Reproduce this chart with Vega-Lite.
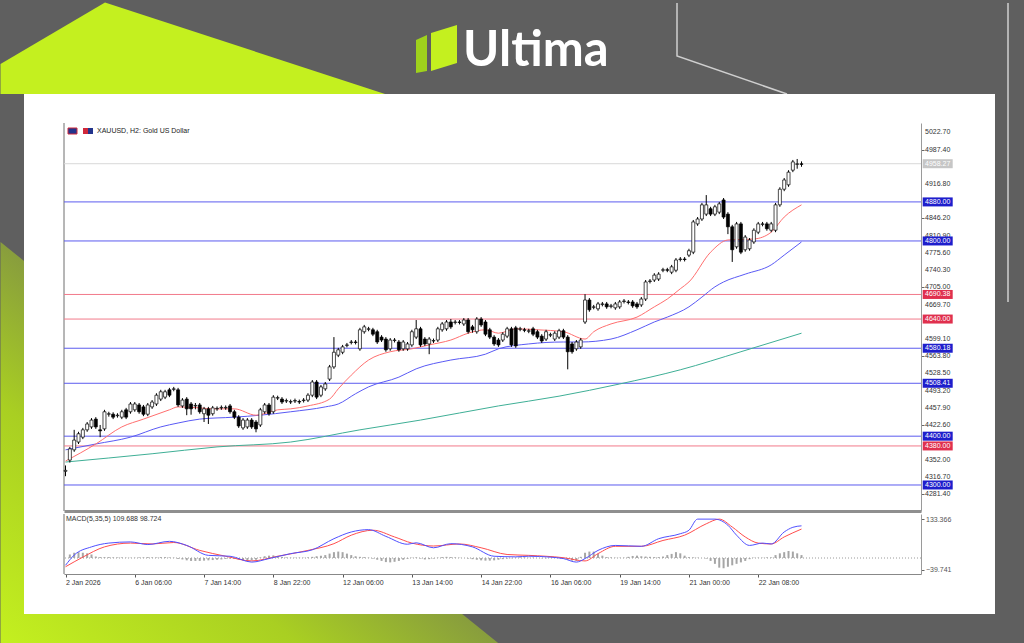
{
"$schema": "https://vega.github.io/schema/vega-lite/v6.json",
"background": "#5f5f5f",
"padding": 0,
"autosize": {"type": "pad"},
"bounds": "flush",
"spacing": 3,
"config": {"view": {"stroke": null}, "font": "Liberation Sans", "axis": {"labelFont": "Liberation Sans", "grid": false, "labelOverlap": false, "labelBound": false}, "text": {"font": "Liberation Sans"}, "scale": {"continuousPadding": 0}},
"datasets": {
"candles": [
{"i":0,"o":4328,"h":4340,"l":4318,"c":4330,"hist":0},
{"i":1,"o":4351,"h":4378,"l":4346,"c":4374,"hist":12},
{"i":2,"o":4372,"h":4413,"l":4368,"c":4392,"hist":18},
{"i":3,"o":4388,"h":4409,"l":4384,"c":4405,"hist":20},
{"i":4,"o":4398,"h":4417,"l":4394,"c":4413,"hist":18},
{"i":5,"o":4413,"h":4429,"l":4409,"c":4425,"hist":16},
{"i":6,"o":4419,"h":4437,"l":4415,"c":4433,"hist":12},
{"i":7,"o":4435,"h":4439,"l":4415,"c":4419,"hist":5},
{"i":8,"o":4413,"h":4423,"l":4398,"c":4411,"hist":3},
{"i":9,"o":4415,"h":4454,"l":4411,"c":4450,"hist":3},
{"i":10,"o":4445,"h":4450,"l":4440,"c":4446,"hist":3},
{"i":11,"o":4445,"h":4449,"l":4435,"c":4439,"hist":2},
{"i":12,"o":4442,"h":4447,"l":4438,"c":4443,"hist":2},
{"i":13,"o":4439,"h":4454,"l":4435,"c":4450,"hist":2},
{"i":14,"o":4454,"h":4458,"l":4435,"c":4439,"hist":1},
{"i":15,"o":4450,"h":4470,"l":4446,"c":4466,"hist":1},
{"i":16,"o":4454,"h":4470,"l":4450,"c":4466,"hist":1},
{"i":17,"o":4464,"h":4468,"l":4446,"c":4450,"hist":2},
{"i":18,"o":4460,"h":4464,"l":4441,"c":4445,"hist":2},
{"i":19,"o":4445,"h":4468,"l":4441,"c":4464,"hist":3},
{"i":20,"o":4460,"h":4474,"l":4456,"c":4470,"hist":2},
{"i":21,"o":4466,"h":4488,"l":4462,"c":4484,"hist":2},
{"i":22,"o":4476,"h":4495,"l":4472,"c":4491,"hist":3},
{"i":23,"o":4480,"h":4495,"l":4476,"c":4491,"hist":3},
{"i":24,"o":4495,"h":4499,"l":4480,"c":4484,"hist":2},
{"i":25,"o":4496,"h":4501,"l":4492,"c":4497,"hist":1},
{"i":26,"o":4495,"h":4499,"l":4460,"c":4464,"hist":-3},
{"i":27,"o":4462,"h":4478,"l":4458,"c":4474,"hist":-5},
{"i":28,"o":4476,"h":4480,"l":4443,"c":4456,"hist":-8},
{"i":29,"o":4466,"h":4470,"l":4444,"c":4456,"hist":-10},
{"i":30,"o":4462,"h":4468,"l":4455,"c":4463,"hist":-10},
{"i":31,"o":4464,"h":4468,"l":4446,"c":4450,"hist":-10},
{"i":32,"o":4446,"h":4460,"l":4429,"c":4456,"hist":-9},
{"i":33,"o":4456,"h":4460,"l":4425,"c":4443,"hist":-8},
{"i":34,"o":4446,"h":4462,"l":4442,"c":4458,"hist":-7},
{"i":35,"o":4456,"h":4461,"l":4452,"c":4457,"hist":-6},
{"i":36,"o":4458,"h":4463,"l":4454,"c":4459,"hist":-5},
{"i":37,"o":4458,"h":4463,"l":4454,"c":4459,"hist":-3},
{"i":38,"o":4462,"h":4466,"l":4446,"c":4450,"hist":-2},
{"i":39,"o":4450,"h":4454,"l":4435,"c":4439,"hist":-3},
{"i":40,"o":4439,"h":4443,"l":4417,"c":4421,"hist":-6},
{"i":41,"o":4417,"h":4437,"l":4413,"c":4433,"hist":-8},
{"i":42,"o":4419,"h":4437,"l":4415,"c":4433,"hist":-9},
{"i":43,"o":4433,"h":4437,"l":4415,"c":4419,"hist":-8},
{"i":44,"o":4429,"h":4433,"l":4408,"c":4415,"hist":-6},
{"i":45,"o":4423,"h":4458,"l":4419,"c":4454,"hist":2},
{"i":46,"o":4450,"h":4468,"l":4446,"c":4464,"hist":6},
{"i":47,"o":4464,"h":4468,"l":4442,"c":4446,"hist":8},
{"i":48,"o":4450,"h":4484,"l":4446,"c":4480,"hist":9},
{"i":49,"o":4478,"h":4483,"l":4474,"c":4479,"hist":7},
{"i":50,"o":4476,"h":4480,"l":4466,"c":4470,"hist":4},
{"i":51,"o":4472,"h":4477,"l":4468,"c":4473,"hist":2},
{"i":52,"o":4470,"h":4475,"l":4466,"c":4471,"hist":1},
{"i":53,"o":4472,"h":4477,"l":4468,"c":4473,"hist":1},
{"i":54,"o":4471,"h":4475,"l":4466,"c":4470,"hist":1},
{"i":55,"o":4473,"h":4478,"l":4469,"c":4474,"hist":1},
{"i":56,"o":4474,"h":4488,"l":4470,"c":4484,"hist":2},
{"i":57,"o":4484,"h":4515,"l":4480,"c":4511,"hist":4},
{"i":58,"o":4511,"h":4515,"l":4476,"c":4480,"hist":6},
{"i":59,"o":4484,"h":4505,"l":4480,"c":4501,"hist":8},
{"i":60,"o":4497,"h":4511,"l":4493,"c":4507,"hist":10},
{"i":61,"o":4517,"h":4546,"l":4513,"c":4542,"hist":15},
{"i":62,"o":4542,"h":4603,"l":4538,"c":4572,"hist":20},
{"i":63,"o":4566,"h":4581,"l":4562,"c":4577,"hist":22},
{"i":64,"o":4572,"h":4587,"l":4568,"c":4583,"hist":20},
{"i":65,"o":4586,"h":4591,"l":4582,"c":4587,"hist":15},
{"i":66,"o":4592,"h":4597,"l":4588,"c":4593,"hist":10},
{"i":67,"o":4593,"h":4597,"l":4588,"c":4592,"hist":6},
{"i":68,"o":4579,"h":4622,"l":4575,"c":4618,"hist":4},
{"i":69,"o":4614,"h":4628,"l":4610,"c":4624,"hist":3},
{"i":70,"o":4619,"h":4624,"l":4615,"c":4620,"hist":1},
{"i":71,"o":4618,"h":4622,"l":4605,"c":4609,"hist":-2},
{"i":72,"o":4614,"h":4618,"l":4589,"c":4593,"hist":-6},
{"i":73,"o":4603,"h":4607,"l":4593,"c":4597,"hist":-10},
{"i":74,"o":4599,"h":4603,"l":4573,"c":4577,"hist":-14},
{"i":75,"o":4579,"h":4601,"l":4575,"c":4597,"hist":-15},
{"i":76,"o":4596,"h":4601,"l":4592,"c":4597,"hist":-13},
{"i":77,"o":4593,"h":4597,"l":4573,"c":4577,"hist":-10},
{"i":78,"o":4579,"h":4597,"l":4575,"c":4593,"hist":-6},
{"i":79,"o":4579,"h":4593,"l":4575,"c":4589,"hist":-3},
{"i":80,"o":4587,"h":4618,"l":4583,"c":4614,"hist":1},
{"i":81,"o":4603,"h":4638,"l":4599,"c":4620,"hist":2},
{"i":82,"o":4620,"h":4624,"l":4583,"c":4587,"hist":-2},
{"i":83,"o":4599,"h":4603,"l":4585,"c":4589,"hist":-5},
{"i":84,"o":4589,"h":4603,"l":4568,"c":4599,"hist":-4},
{"i":85,"o":4595,"h":4600,"l":4591,"c":4596,"hist":-2},
{"i":86,"o":4597,"h":4624,"l":4593,"c":4620,"hist":1},
{"i":87,"o":4618,"h":4634,"l":4614,"c":4630,"hist":3},
{"i":88,"o":4620,"h":4638,"l":4616,"c":4634,"hist":4},
{"i":89,"o":4634,"h":4640,"l":4620,"c":4624,"hist":3},
{"i":90,"o":4633,"h":4638,"l":4629,"c":4634,"hist":2},
{"i":91,"o":4634,"h":4638,"l":4629,"c":4633,"hist":1},
{"i":92,"o":4630,"h":4642,"l":4626,"c":4638,"hist":0},
{"i":93,"o":4638,"h":4642,"l":4610,"c":4614,"hist":-2},
{"i":94,"o":4624,"h":4628,"l":4612,"c":4618,"hist":-4},
{"i":95,"o":4614,"h":4644,"l":4610,"c":4640,"hist":-6},
{"i":96,"o":4640,"h":4644,"l":4624,"c":4628,"hist":-8},
{"i":97,"o":4634,"h":4638,"l":4605,"c":4609,"hist":-9},
{"i":98,"o":4618,"h":4622,"l":4599,"c":4603,"hist":-9},
{"i":99,"o":4603,"h":4607,"l":4585,"c":4589,"hist":-8},
{"i":100,"o":4597,"h":4601,"l":4583,"c":4587,"hist":-6},
{"i":101,"o":4597,"h":4613,"l":4593,"c":4609,"hist":-4},
{"i":102,"o":4605,"h":4624,"l":4601,"c":4620,"hist":-2},
{"i":103,"o":4620,"h":4624,"l":4583,"c":4587,"hist":-1},
{"i":104,"o":4622,"h":4626,"l":4581,"c":4585,"hist":1},
{"i":105,"o":4619,"h":4624,"l":4615,"c":4620,"hist":2},
{"i":106,"o":4618,"h":4622,"l":4613,"c":4617,"hist":2},
{"i":107,"o":4615,"h":4620,"l":4611,"c":4616,"hist":1},
{"i":108,"o":4620,"h":4624,"l":4605,"c":4609,"hist":1},
{"i":109,"o":4614,"h":4618,"l":4599,"c":4603,"hist":0},
{"i":110,"o":4605,"h":4609,"l":4591,"c":4595,"hist":-1},
{"i":111,"o":4599,"h":4618,"l":4595,"c":4614,"hist":-1},
{"i":112,"o":4607,"h":4612,"l":4603,"c":4608,"hist":1},
{"i":113,"o":4599,"h":4615,"l":4595,"c":4611,"hist":2},
{"i":114,"o":4603,"h":4620,"l":4599,"c":4616,"hist":1},
{"i":115,"o":4616,"h":4620,"l":4599,"c":4603,"hist":-2},
{"i":116,"o":4603,"h":4607,"l":4537,"c":4573,"hist":-6},
{"i":117,"o":4589,"h":4593,"l":4569,"c":4573,"hist":-9},
{"i":118,"o":4579,"h":4597,"l":4575,"c":4593,"hist":-10},
{"i":119,"o":4583,"h":4601,"l":4579,"c":4597,"hist":4},
{"i":120,"o":4634,"h":4691,"l":4630,"c":4679,"hist":18},
{"i":121,"o":4679,"h":4683,"l":4655,"c":4659,"hist":22},
{"i":122,"o":4664,"h":4669,"l":4660,"c":4665,"hist":22},
{"i":123,"o":4661,"h":4675,"l":4657,"c":4671,"hist":14},
{"i":124,"o":4670,"h":4675,"l":4666,"c":4671,"hist":8},
{"i":125,"o":4671,"h":4675,"l":4661,"c":4665,"hist":3},
{"i":126,"o":4666,"h":4671,"l":4662,"c":4667,"hist":2},
{"i":127,"o":4663,"h":4675,"l":4659,"c":4671,"hist":1},
{"i":128,"o":4665,"h":4679,"l":4661,"c":4675,"hist":1},
{"i":129,"o":4676,"h":4681,"l":4672,"c":4677,"hist":1},
{"i":130,"o":4675,"h":4679,"l":4670,"c":4674,"hist":4},
{"i":131,"o":4675,"h":4679,"l":4663,"c":4667,"hist":7},
{"i":132,"o":4671,"h":4675,"l":4661,"c":4665,"hist":8},
{"i":133,"o":4669,"h":4685,"l":4665,"c":4681,"hist":6},
{"i":134,"o":4681,"h":4720,"l":4677,"c":4716,"hist":5},
{"i":135,"o":4717,"h":4722,"l":4713,"c":4718,"hist":4},
{"i":136,"o":4720,"h":4734,"l":4716,"c":4730,"hist":3},
{"i":137,"o":4722,"h":4736,"l":4718,"c":4732,"hist":3},
{"i":138,"o":4740,"h":4745,"l":4736,"c":4741,"hist":5},
{"i":139,"o":4741,"h":4745,"l":4736,"c":4740,"hist":10},
{"i":140,"o":4736,"h":4751,"l":4732,"c":4747,"hist":14},
{"i":141,"o":4740,"h":4765,"l":4736,"c":4761,"hist":20},
{"i":142,"o":4762,"h":4767,"l":4758,"c":4763,"hist":16},
{"i":143,"o":4763,"h":4767,"l":4758,"c":4762,"hist":8},
{"i":144,"o":4771,"h":4784,"l":4767,"c":4780,"hist":3},
{"i":145,"o":4777,"h":4843,"l":4773,"c":4839,"hist":2},
{"i":146,"o":4835,"h":4849,"l":4831,"c":4845,"hist":1},
{"i":147,"o":4845,"h":4878,"l":4841,"c":4874,"hist":0},
{"i":148,"o":4855,"h":4894,"l":4851,"c":4874,"hist":-2},
{"i":149,"o":4866,"h":4870,"l":4851,"c":4855,"hist":-10},
{"i":150,"o":4855,"h":4874,"l":4851,"c":4870,"hist":-20},
{"i":151,"o":4859,"h":4880,"l":4855,"c":4876,"hist":-33},
{"i":152,"o":4884,"h":4888,"l":4845,"c":4849,"hist":-35},
{"i":153,"o":4855,"h":4859,"l":4814,"c":4829,"hist":-30},
{"i":154,"o":4829,"h":4833,"l":4757,"c":4782,"hist":-25},
{"i":155,"o":4788,"h":4839,"l":4784,"c":4835,"hist":-20},
{"i":156,"o":4835,"h":4839,"l":4773,"c":4777,"hist":-15},
{"i":157,"o":4782,"h":4812,"l":4778,"c":4808,"hist":-10},
{"i":158,"o":4784,"h":4806,"l":4780,"c":4802,"hist":-4},
{"i":159,"o":4798,"h":4826,"l":4794,"c":4822,"hist":1},
{"i":160,"o":4818,"h":4839,"l":4814,"c":4835,"hist":1},
{"i":161,"o":4834,"h":4839,"l":4830,"c":4835,"hist":1},
{"i":162,"o":4835,"h":4839,"l":4821,"c":4825,"hist":2},
{"i":163,"o":4822,"h":4839,"l":4818,"c":4835,"hist":2},
{"i":164,"o":4822,"h":4878,"l":4818,"c":4874,"hist":10},
{"i":165,"o":4874,"h":4910,"l":4870,"c":4906,"hist":16},
{"i":166,"o":4906,"h":4929,"l":4902,"c":4925,"hist":20},
{"i":167,"o":4915,"h":4945,"l":4911,"c":4941,"hist":24},
{"i":168,"o":4945,"h":4966,"l":4941,"c":4962,"hist":22},
{"i":169,"o":4957,"h":4968,"l":4948,"c":4958,"hist":16},
{"i":170,"o":4958,"h":4963,"l":4952,"c":4957,"hist":10}
],
"maFast": [
{"i":0,"v":4349},{"i":7,"v":4384},{"i":13,"v":4419},{"i":18,"v":4435},{"i":24,"v":4454},{"i":26,"v":4460},{"i":31,"v":4458},{"i":34,"v":4456},{"i":39,"v":4456},{"i":44,"v":4443},{"i":49,"v":4454},{"i":52,"v":4456},{"i":56,"v":4462},{"i":61,"v":4476},{"i":63,"v":4497},{"i":66,"v":4525},{"i":70,"v":4556},{"i":75,"v":4573},{"i":80,"v":4579},{"i":84,"v":4587},{"i":89,"v":4597},{"i":93,"v":4611},{"i":97,"v":4618},{"i":100,"v":4611},{"i":104,"v":4620},{"i":109,"v":4618},{"i":115,"v":4614},{"i":120,"v":4599},{"i":122,"v":4614},{"i":126,"v":4630},{"i":132,"v":4644},{"i":136,"v":4665},{"i":139,"v":4681},{"i":142,"v":4702},{"i":144,"v":4716},{"i":149,"v":4777},{"i":153,"v":4802},{"i":159,"v":4804},{"i":163,"v":4818},{"i":166,"v":4849},{"i":170,"v":4874}
],
"maMid": [
{"i":0,"v":4372},{"i":7,"v":4384},{"i":15,"v":4398},{"i":22,"v":4419},{"i":26,"v":4427},{"i":31,"v":4435},{"i":39,"v":4439},{"i":45,"v":4443},{"i":52,"v":4450},{"i":60,"v":4460},{"i":63,"v":4466},{"i":67,"v":4487},{"i":70,"v":4501},{"i":77,"v":4521},{"i":81,"v":4538},{"i":89,"v":4556},{"i":97,"v":4568},{"i":100,"v":4579},{"i":107,"v":4589},{"i":115,"v":4593},{"i":119,"v":4593},{"i":126,"v":4599},{"i":132,"v":4618},{"i":136,"v":4634},{"i":139,"v":4644},{"i":144,"v":4665},{"i":147,"v":4685},{"i":150,"v":4706},{"i":152,"v":4716},{"i":157,"v":4732},{"i":163,"v":4751},{"i":166,"v":4771},{"i":170,"v":4798}
],
"maSlow": [
{"i":0,"v":4347},{"i":20,"v":4364},{"i":35,"v":4378},{"i":52,"v":4388},{"i":68,"v":4413},{"i":82,"v":4433},{"i":100,"v":4462},{"i":114,"v":4482},{"i":128,"v":4507},{"i":142,"v":4536},{"i":156,"v":4573},{"i":170,"v":4611}
],
"macdMain": [
{"i":0,"v":-25},{"i":2,"v":10},{"i":6,"v":38},{"i":10,"v":51},{"i":15,"v":55},{"i":19,"v":46},{"i":24,"v":57},{"i":28,"v":43},{"i":33,"v":9},{"i":38,"v":6},{"i":43,"v":-14},{"i":47,"v":-2},{"i":52,"v":15},{"i":57,"v":28},{"i":62,"v":66},{"i":66,"v":89},{"i":70,"v":97},{"i":74,"v":74},{"i":79,"v":47},{"i":81,"v":52},{"i":85,"v":35},{"i":89,"v":49},{"i":94,"v":38},{"i":99,"v":6},{"i":104,"v":4},{"i":107,"v":6},{"i":112,"v":3},{"i":115,"v":-2},{"i":118,"v":-14},{"i":120,"v":-2},{"i":123,"v":26},{"i":127,"v":43},{"i":133,"v":40},{"i":137,"v":66},{"i":142,"v":83},{"i":144,"v":95},{"i":146,"v":133},{"i":150,"v":133},{"i":153,"v":112},{"i":155,"v":78},{"i":158,"v":43},{"i":161,"v":51},{"i":163,"v":48},{"i":166,"v":89},{"i":168,"v":105},{"i":170,"v":110}
],
"macdSignal": [
{"i":0,"v":-30},{"i":4,"v":3},{"i":9,"v":38},{"i":15,"v":51},{"i":20,"v":48},{"i":25,"v":53},{"i":31,"v":26},{"i":37,"v":6},{"i":43,"v":-10},{"i":49,"v":6},{"i":56,"v":26},{"i":62,"v":49},{"i":66,"v":78},{"i":71,"v":95},{"i":76,"v":72},{"i":80,"v":51},{"i":85,"v":41},{"i":91,"v":48},{"i":96,"v":35},{"i":102,"v":12},{"i":107,"v":9},{"i":115,"v":1},{"i":120,"v":-10},{"i":123,"v":15},{"i":127,"v":40},{"i":133,"v":40},{"i":138,"v":60},{"i":143,"v":78},{"i":148,"v":117},{"i":151,"v":133},{"i":154,"v":106},{"i":157,"v":72},{"i":160,"v":51},{"i":163,"v":48},{"i":166,"v":72},{"i":170,"v":99}
],
"levels": [
{"p":4880,"t":"S"},{"p":4800,"t":"S"},{"p":4690.38,"t":"R"},{"p":4640,"t":"R"},{"p":4580.18,"t":"S"},{"p":4508.41,"t":"S"},{"p":4400,"t":"S"},{"p":4380,"t":"R"},{"p":4300,"t":"S"},{"p":4958.27,"t":"Bid"}
],
"ticks": [
{"v":4281.4},{"v":4316.7},{"v":4352.0},{"v":4422.6},{"v":4457.9},{"v":4493.2},{"v":4528.5},{"v":4563.8},{"v":4599.1},{"v":4669.7},{"v":4705.0},{"v":4740.3},{"v":4775.6},{"v":4810.9},{"v":4846.2},{"v":4916.8},{"v":4987.4},{"v":5022.7}
]
},
"vconcat": [
{
"width": 857,
"height": 388,
"layer": [
{"data": {"values": [{}]}, "mark": {"type": "rect", "color": "#5f5f5f", "clip": false},
 "encoding": {"x": {"datum": -15.0865, "type": "quantitative"}, "x2": {"datum": 221.3215}, "y": {"datum": 5289.216, "type": "quantitative"}, "y2": {"datum": 3972.752}}},
{"data": {"values": [{}]}, "mark": {"type": "point", "shape": "M0.5,62L105,0.5L385,92L0.5,92Z", "size": 4, "filled": true, "opacity": 1, "strokeWidth": 0, "color": "#c4f01f", "clip": false},
 "encoding": {"x": {"datum": -15.1327, "type": "quantitative"}, "y": {"datum": 5289.625, "type": "quantitative"}}},
{"data": {"values": [{}]}, "mark": {"type": "point", "shape": "M0.5,240L0.5,642.5L500,642.5Z", "size": 4, "filled": true, "opacity": 1, "strokeWidth": 0, "fill": {"gradient": "linear", "x1": 0, "y1": 1, "x2": 0.75, "y2": 0.25, "stops": [{"offset": 0, "color": "#c4f01f"}, {"offset": 0.4, "color": "#a9cf22"}, {"offset": 1, "color": "#5f5f5f"}]}, "clip": false},
 "encoding": {"x": {"datum": -15.1327, "type": "quantitative"}, "y": {"datum": 5289.625, "type": "quantitative"}}},
{"data": {"values": [{}]}, "mark": {"type": "point", "shape": "M677,1L677,54L787,92M1008,1L1008,300", "size": 4, "filled": false, "opacity": 1, "stroke": "#cfcfcf", "strokeWidth": 1.5, "clip": false},
 "encoding": {"x": {"datum": -15.1327, "type": "quantitative"}, "y": {"datum": 5289.625, "type": "quantitative"}}},
{"data": {"values": [{}]}, "mark": {"type": "rect", "color": "#ffffff", "clip": false},
 "encoding": {"x": {"datum": -9.5892, "type": "quantitative"}, "x2": {"datum": 214.6923}, "y": {"datum": 5101.12, "type": "quantitative"}, "y2": {"datum": 4035.656}}},
{"data": {"values": [{}]}, "mark": {"type": "point", "shape": "M416,38L427,33L427,69L416,71Z", "size": 4, "filled": true, "opacity": 1, "strokeWidth": 0, "color": "#9fd21c", "clip": false},
 "encoding": {"x": {"datum": -15.1327, "type": "quantitative"}, "y": {"datum": 5289.625, "type": "quantitative"}}},
{"data": {"values": [{}]}, "mark": {"type": "point", "shape": "M431,31L457,23L457,61L431,69Z", "size": 4, "filled": true, "opacity": 1, "strokeWidth": 0, "color": "#c4f01f", "clip": false},
 "encoding": {"x": {"datum": -15.1327, "type": "quantitative"}, "y": {"datum": 5289.625, "type": "quantitative"}}},
{"data": {"values": [{"t": "Ultima"}]}, "mark": {"type": "text", "font": "Lato", "fontWeight": "bold", "fontSize": 49, "color": "#ffffff", "align": "left", "baseline": "alphabetic", "clip": false},
 "encoding": {"text": {"field": "t"}, "x": {"datum": 91.811, "type": "quantitative"}, "y": {"datum": 5158.49, "type": "quantitative"}}},
{"data": {"values": [{}]}, "mark": {"type": "rule", "color": "#6e6e6e"}, "encoding": {"x": {"datum": -0.35, "type": "quantitative"}}},
{"data": {"values": [{}]}, "mark": {"type": "point", "shape": "M68,126H77V132H68Z", "size": 4, "filled": true, "opacity": 1, "color": "#22348c", "stroke": "#d0283a", "strokeWidth": 1, "clip": false},
 "encoding": {"x": {"datum": -15.1327, "type": "quantitative"}, "y": {"datum": 5289.625, "type": "quantitative"}}},
{"data": {"values": [{}]}, "mark": {"type": "point", "shape": "M83,126H88V132H83Z", "size": 4, "filled": true, "opacity": 1, "strokeWidth": 0, "color": "#d0283a", "clip": false},
 "encoding": {"x": {"datum": -15.1327, "type": "quantitative"}, "y": {"datum": 5289.625, "type": "quantitative"}}},
{"data": {"values": [{}]}, "mark": {"type": "point", "shape": "M88,126H93V132H88Z", "size": 4, "filled": true, "opacity": 1, "strokeWidth": 0, "color": "#22348c", "clip": false},
 "encoding": {"x": {"datum": -15.1327, "type": "quantitative"}, "y": {"datum": 5289.625, "type": "quantitative"}}},
{"data": {"values": [{"t": "XAUUSD, H2:  Gold US Dollar"}]}, "mark": {"type": "text", "fontSize": 7, "color": "#222222", "align": "left", "baseline": "middle"},
 "encoding": {"text": {"field": "t"}, "x": {"datum": 7.272, "type": "quantitative"}, "y": {"datum": 5025.31, "type": "quantitative"}}},
{"data": {"name": "levels"}, "mark": {"type": "rule", "strokeWidth": 1},
 "encoding": {"y": {"field": "p", "type": "quantitative"},
  "color": {"condition": [{"test": "datum.t === 'R'", "value": "#f27a8a"}, {"test": "datum.t === 'Bid'", "value": "#d9d9d9"}], "value": "#5b5bef"}}},
{"data": {"name": "maSlow"}, "mark": {"type": "line", "color": "#3faf96", "strokeWidth": 1, "interpolate": "monotone"},
 "encoding": {"x": {"field": "i", "type": "quantitative"}, "y": {"field": "v", "type": "quantitative"}}},
{"data": {"name": "maMid"}, "mark": {"type": "line", "color": "#5a5af5", "strokeWidth": 1, "interpolate": "monotone"},
 "encoding": {"x": {"field": "i", "type": "quantitative"}, "y": {"field": "v", "type": "quantitative"}}},
{"data": {"name": "maFast"}, "mark": {"type": "line", "color": "#ff6f6f", "strokeWidth": 1, "interpolate": "monotone"},
 "encoding": {"x": {"field": "i", "type": "quantitative"}, "y": {"field": "v", "type": "quantitative"}}},
{"data": {"name": "candles"}, "mark": {"type": "rule", "color": "#000000", "strokeWidth": 1},
 "encoding": {
  "x": {"field": "i", "type": "quantitative", "scale": {"domain": [-0.35, 197.6], "nice": false, "zero": false, "padding": 0},
   "axis": {"orient": "bottom", "labels": false, "ticks": false, "domain": true, "domainColor": "#8f8f8f", "domainWidth": 3, "title": null, "grid": false, "zindex": 1}},
  "y": {"field": "l", "type": "quantitative", "scale": {"domain": [4246.7, 5041.7], "nice": false, "zero": false, "padding": 0},
   "axis": {"orient": "right", "values": [4281.4, 4316.7, 4352.0, 4387.3, 4422.6, 4457.9, 4493.2, 4528.5, 4563.8, 4599.1, 4634.4, 4669.7, 4705.0, 4740.3, 4775.6, 4810.9, 4846.2, 4881.5, 4916.8, 4952.1, 4987.4, 5022.7], "labels": false, "tickSize": 3, "tickColor": "#666666", "domainColor": "#9a9a9a", "title": null, "grid": false, "zindex": 1}},
  "y2": {"field": "h"}}},
{"data": {"name": "candles"}, "mark": {"type": "bar", "width": 3, "stroke": "#000000", "strokeWidth": 0.7},
 "encoding": {
  "x": {"field": "i", "type": "quantitative"},
  "y": {"field": "o", "type": "quantitative"},
  "y2": {"field": "c"},
  "fill": {"condition": {"test": "datum.c >= datum.o", "value": "#ffffff"}, "value": "#000000"}}},
{"data": {"name": "ticks"}, "mark": {"type": "text", "fontSize": 7, "color": "#333333", "align": "left", "baseline": "middle", "clip": false},
 "encoding": {"x": {"datum": 198.52, "type": "quantitative"}, "y": {"field": "v", "type": "quantitative"}, "text": {"field": "v", "type": "quantitative", "format": ".2f"}}},
{"data": {"name": "levels"}, "mark": {"type": "point", "shape": "M-15,-4.5H15V4.5H-15Z", "size": 4, "filled": true, "opacity": 1, "strokeWidth": 0, "clip": false},
 "encoding": {"x": {"datum": 201.457, "type": "quantitative"}, "y": {"field": "p", "type": "quantitative"},
  "color": {"condition": [{"test": "datum.t === 'R'", "value": "#e0304e"}, {"test": "datum.t === 'Bid'", "value": "#c6c6c6"}], "value": "#1e1ecc"}}},
{"data": {"name": "levels"}, "mark": {"type": "text", "fontSize": 7, "color": "#ffffff", "align": "center", "baseline": "middle", "clip": false},
 "encoding": {"x": {"datum": 201.457, "type": "quantitative"}, "y": {"field": "p", "type": "quantitative"}, "text": {"field": "p", "type": "quantitative", "format": ".2f"}}}
]
},
{
"width": 857,
"height": 60,
"layer": [
{"data": {"values": [{}]}, "mark": {"type": "rule", "color": "#6e6e6e"}, "encoding": {"x": {"datum": -0.35, "type": "quantitative"}}},
{"data": {"values": [{}]}, "mark": {"type": "rule", "color": "#9a9a9a", "strokeDash": [1, 2]}, "encoding": {"y": {"datum": 0, "type": "quantitative"}}},
{"data": {"name": "candles"}, "mark": {"type": "bar", "width": 2, "color": "#a6a6a6"},
 "encoding": {
  "x": {"field": "i", "type": "quantitative", "scale": {"domain": [-0.35, 197.6], "nice": false, "zero": false, "padding": 0},
   "axis": {"orient": "bottom", "values": [0, 16, 32, 48, 64, 80, 96, 112, 128, 144, 160], "labelExpr": "['2 Jan 2026','6 Jan 06:00','7 Jan 14:00','8 Jan 22:00','12 Jan 06:00','13 Jan 14:00','14 Jan 22:00','16 Jan 06:00','19 Jan 14:00','21 Jan 00:00','22 Jan 08:00'][round(datum.value/16)]", "labelAlign": "left", "labelFontSize": 7, "labelColor": "#333333", "tickSize": 3, "tickColor": "#555555", "domainColor": "#888888", "labelPadding": 1, "title": null, "grid": false, "labelFlush": false, "labelOverlap": false}},
  "y": {"field": "hist", "type": "quantitative", "scale": {"domain": [-54.72, 150.48], "nice": false, "zero": false, "padding": 0},
   "axis": {"orient": "right", "values": [133.366, -39.741], "format": ".3f", "labelFontSize": 7, "labelColor": "#555555", "tickSize": 3, "tickColor": "#666666", "domainColor": "#9a9a9a", "labelPadding": 1.5, "title": null, "grid": false}},
  "y2": {"datum": 0}}},
{"data": {"name": "macdSignal"}, "mark": {"type": "line", "color": "#ff4d4d", "strokeWidth": 1, "interpolate": "monotone"},
 "encoding": {"x": {"field": "i", "type": "quantitative"}, "y": {"field": "v", "type": "quantitative"}}},
{"data": {"name": "macdMain"}, "mark": {"type": "line", "color": "#5050ff", "strokeWidth": 1, "interpolate": "monotone"},
 "encoding": {"x": {"field": "i", "type": "quantitative"}, "y": {"field": "v", "type": "quantitative"}}},
{"data": {"values": [{"t": "MACD(5,35,5) 109.688 98.724"}]}, "mark": {"type": "text", "fontSize": 7, "color": "#333333", "align": "left", "baseline": "middle"},
 "encoding": {"text": {"field": "t"}, "x": {"datum": 0.112, "type": "quantitative"}, "y": {"datum": 131.7, "type": "quantitative"}}}
]
}
]
}
